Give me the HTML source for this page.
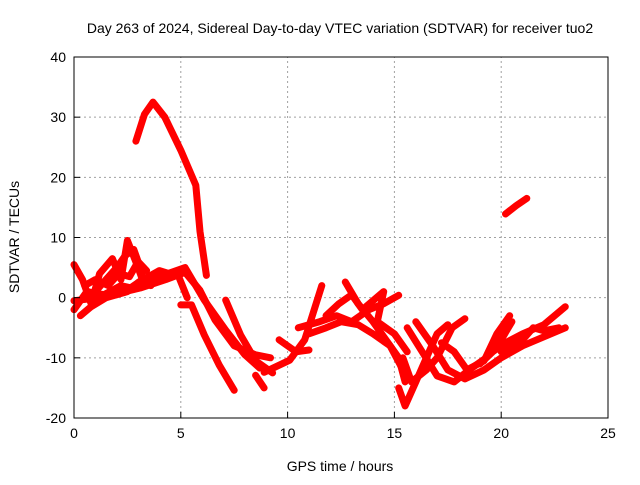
<!DOCTYPE html>
<html><head><meta charset="utf-8"><style>
html,body{margin:0;padding:0;background:#fff}
svg text{font-family:"Liberation Sans",sans-serif;fill:#000}
</style></head><body>
<svg id="chart" width="640" height="480" viewBox="0 0 640 480" xmlns="http://www.w3.org/2000/svg">
<text x="340" y="33" font-size="14" text-anchor="middle">Day 263 of 2024, Sidereal Day-to-day VTEC variation (SDTVAR) for receiver tuo2</text>
<g id="grid"></g>
<g id="series"></g>
<rect x="74" y="57" width="534" height="361" fill="none" stroke="#000" stroke-width="1"/>
<g id="ticks"></g>
<text x="340" y="471" font-size="14" text-anchor="middle">GPS time / hours</text>
<text x="19" y="237" font-size="14" text-anchor="middle" transform="rotate(-90 19 237)">SDTVAR / TECUs</text>
</svg>
<script>
const xTicks=[0,5,10,15,20,25];
const yTicks=[-20,-10,0,10,20,30,40];
const track1=[0,-0.5,1.2,0,3.1,1.6,4.3,3,5.2,4.2,5.9,1.2,6.6,-3.7,7.5,-8,8.5,-9.5,9.2,-10];
const track2=[3.6,3,5.2,5,6.1,-0.4,7.1,-5.4,8,-9.5,8.7,-11.7];
const track3=[5,-1.2,5.5,-1.2,6.1,-6.2,6.8,-11.2,7.5,-15.4];
const track4=[7.1,-0.4,7.8,-6.2,8.5,-10.5,9.3,-12.5];
const track5=[8.5,-12.9,8.9,-15];
const track6=[8.9,-12.4,10.1,-10.4,10.8,-7,11.6,2];
const track7=[9.6,-7,10.4,-9,11,-8.7];
const track8=[3,2.5,4,4.5,4.9,3.5,5.3,0];
const track9=[0,5.5,0.4,3,0.8,-1,1.2,4,1.8,6.5,2.2,3,2.5,9.5,3,5,3.3,2];
const track10=[0,-2,0.6,1,1.4,0.5,2.2,2,2.8,1.5];
const track11=[0.3,-3,0.8,-1.5,1.5,0,2.5,1];
const track12=[10.5,-5,11.5,-4,12.3,-3,13,-4,13.8,-2,14.5,-1,15.2,0.4];
const track13=[11,-6,11.8,-5,12.5,-4,13.3,-4.5,14,-6,14.8,-8,15.4,-12];
const track14=[12.7,2.6,13.3,-1,14,-4,14.6,-7,15.2,-10,15.5,-14];
const track15=[11.8,-3,12.4,-1,13,0.5,13.5,-2,14.5,1,14.2,-4,15,-6,15.6,-9];
const track16=[15.2,-15,15.5,-18,16,-14,16.5,-10,17,-6,17.5,-4.5];
const track17=[15.4,-10,15.8,-14,16.5,-12,17,-10,17.7,-5,18.3,-3.5];
const track18=[15.6,-5,16.3,-9,17,-13,17.8,-14,18.5,-12,19.3,-10,20,-7,20.5,-4];
const track19=[17.2,-7.5,17.8,-9,18.4,-12,19.2,-10.5,19.8,-6,20.4,-3];
const track20=[16,-4,16.8,-8,17.5,-12,18.3,-13.5,19.2,-12,20,-10,21,-8,22,-6.5,23,-5];
const track21=[19,-11,19.6,-9,20.2,-7.5,21,-6,22,-4.5,22.5,-3,23,-1.5];
const track22=[20,-9,21,-7,21.5,-5,22,-5.5,22.7,-5];
const track23=[1,1,1.5,3,2,5,2.4,7,2.8,8,3.2,4];
const track24=[0.5,2,1,3,1.6,2,2.1,4,2.6,3.5,3,6,3.4,4.5];
const track25=[2,0.5,2.6,1.5,3.2,3,3.6,2];
const arcTrack=[2.9,26,3.3,30.5,3.7,32.5,4.25,30,5,24.5,5.7,18.7,5.9,11,6.2,3.7];
const tailTrack=[20.2,13.9,20.7,15.3,21.2,16.5];
const tracks=[track1,track2,track3,track4,track5,track6,track7,track8,track9,track10,track11,track12,track13,track14,track15,track16,track17,track18,track19,track20,track21,track22,track23,track24,track25,arcTrack,tailTrack];

const X0=74,X1=608,Y0=418,Y1=57;
const xS=v=>X0+(v-0)/25*(X1-X0);
const yS=v=>Y0-(v+20)/60*(Y0-Y1);
const NS="http://www.w3.org/2000/svg";
const grid=document.getElementById('grid'),ticks=document.getElementById('ticks'),ser=document.getElementById('series');
function mk(t,a){const e=document.createElementNS(NS,t);for(const k in a)e.setAttribute(k,a[k]);return e;}
xTicks.forEach(t=>{const x=xS(t);
 if(t>0&&t<25){const g=mk('line',{x1:x,x2:x,y1:Y0,y2:Y1,stroke:'#a0a0a0','stroke-dasharray':'2,3'});grid.appendChild(g);}
 const tk=mk('line',{x1:x,x2:x,y1:Y0,y2:Y0-6,stroke:'#000'});ticks.appendChild(tk);
 const tx=mk('text',{x:x,y:Y0+20,'font-size':14,'text-anchor':'middle'});tx.textContent=t;ticks.appendChild(tx);});
yTicks.forEach(t=>{const y=yS(t);
 if(t>-20&&t<40){const g=mk('line',{x1:X0,x2:X1,y1:y,y2:y,stroke:'#a0a0a0','stroke-dasharray':'2,3'});grid.appendChild(g);}
 const tk=mk('line',{x1:X0,x2:X0+6,y1:y,y2:y,stroke:'#000'});ticks.appendChild(tk);
 const tx=mk('text',{x:X0-8,y:y+5,'font-size':14,'text-anchor':'end'});tx.textContent=t;ticks.appendChild(tx);});
tracks.forEach(tr=>{let pts=[];for(let i=0;i<tr.length;i+=2)pts.push(xS(tr[i]).toFixed(1)+','+yS(tr[i+1]).toFixed(1));
 const p=mk('polyline',{points:pts.join(' '),fill:'none',stroke:'#ff0000','stroke-width':7,'stroke-linejoin':'round','stroke-linecap':'round'});
 
 
 ser.appendChild(p);});
</script>
</body></html>
